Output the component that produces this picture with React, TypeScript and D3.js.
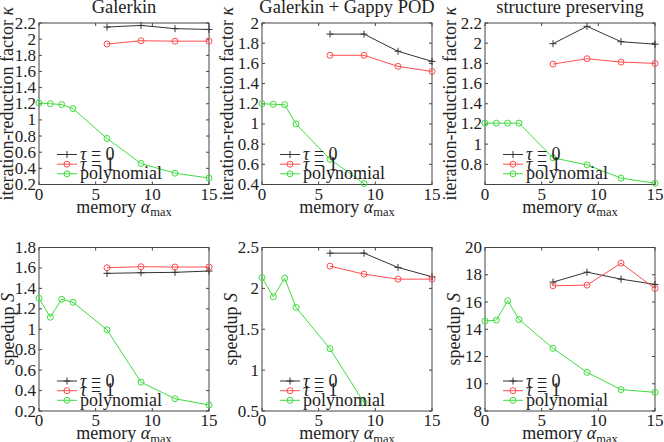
import React from "react";
import * as d3 from "d3";

// ---------- data ----------
const xTau = [6, 9, 12, 15];
const xPoly = [0, 1, 2, 3, 6, 9, 12, 15];
const xPolyGappy = [0, 1, 2, 3, 6, 9];
const xTicks = [0, 5, 10, 15];

const titles = ["Galerkin", "Galerkin + Gappy POD", "structure preserving"];
const legendLabels = ["τ = 0", "τ = 1", "polynomial"];

// iteration-reduction factor kappa
const kappaGalerkinTau0 = [2.15, 2.17, 2.13, 2.12];
const kappaGalerkinTau1 = [1.94, 1.98, 1.975, 1.975];
const kappaGalerkinPoly = [1.21, 1.2, 1.19, 1.14, 0.77, 0.46, 0.34, 0.28];

const kappaGappyTau0 = [1.89, 1.89, 1.72, 1.62];
const kappaGappyTau1 = [1.68, 1.68, 1.57, 1.52];
const kappaGappyPoly = [1.2, 1.195, 1.19, 1.0, 0.65, 0.41];

const kappaStructTau0 = [1.995, 2.167, 2.015, 1.99];
const kappaStructTau1 = [1.793, 1.846, 1.813, 1.8];
const kappaStructPoly = [1.208, 1.208, 1.208, 1.208, 0.864, 0.795, 0.663, 0.613];

// speedup S
const speedGalerkinTau0 = [1.547, 1.553, 1.557, 1.57];
const speedGalerkinTau1 = [1.602, 1.612, 1.609, 1.609];
const speedGalerkinPoly = [1.303, 1.118, 1.294, 1.264, 0.995, 0.482, 0.32, 0.258];

const speedGappyTau0 = [2.431, 2.431, 2.256, 2.142];
const speedGappyTau1 = [2.272, 2.174, 2.113, 2.113];
const speedGappyPoly = [2.133, 1.897, 2.125, 1.767, 1.262, 0.602];

const speedStructTau0 = [17.46, 18.19, 17.68, 17.29];
const speedStructTau1 = [17.19, 17.24, 18.85, 16.99];
const speedStructPoly = [14.6, 14.67, 16.09, 14.72, 12.6, 10.84, 9.57, 9.37];

// y tick values
const yTicksK1 = [0.2, 0.4, 0.6, 0.8, 1, 1.2, 1.4, 1.6, 1.8, 2, 2.2];
const yTicksK2 = [0.4, 0.6, 0.8, 1, 1.2, 1.4, 1.6, 1.8, 2];
const yTicksK3 = [0.8, 1, 1.2, 1.4, 1.6, 1.8, 2, 2.2];
const yTicksS1 = [0.2, 0.4, 0.6, 0.8, 1, 1.2, 1.4, 1.6, 1.8];
const yTicksS2 = [0.5, 1, 1.5, 2, 2.5];
const yTicksS3 = [8, 10, 12, 14, 16, 18, 20];

// ---------- layout / style ----------
const W = 664;
const H = 442;
const FONT = "'Liberation Serif', 'DejaVu Serif', serif";
const FS = 17;
const FS_TITLE = 18.5;
const FS_LABEL = 18;
const colLeft = [39, 262, 485];
const plotW = 170;
const rowTop = [23, 247.5];
const rowBottom = [184.5, 411];
const yLabelOffset = [
  [26.5, 29.5, 29.5],
  [25, 25, 25],
];
const colors = ["#333333", "#ff4d4d", "#3ddd3d"];
const axisColor = "#444444";

type Panel = {
  col: number;
  row: number;
  domain: [number, number];
  ticks: number[];
  tau0: number[];
  tau1: number[];
  poly: number[];
  polyX: number[];
};

const panels: Panel[] = [
  { col: 0, row: 0, domain: [0.2, 2.2], ticks: yTicksK1, tau0: kappaGalerkinTau0, tau1: kappaGalerkinTau1, poly: kappaGalerkinPoly, polyX: xPoly },
  { col: 1, row: 0, domain: [0.4, 2], ticks: yTicksK2, tau0: kappaGappyTau0, tau1: kappaGappyTau1, poly: kappaGappyPoly, polyX: xPolyGappy },
  { col: 2, row: 0, domain: [0.6, 2.2], ticks: yTicksK3, tau0: kappaStructTau0, tau1: kappaStructTau1, poly: kappaStructPoly, polyX: xPoly },
  { col: 0, row: 1, domain: [0.2, 1.8], ticks: yTicksS1, tau0: speedGalerkinTau0, tau1: speedGalerkinTau1, poly: speedGalerkinPoly, polyX: xPoly },
  { col: 1, row: 1, domain: [0.5, 2.5], ticks: yTicksS2, tau0: speedGappyTau0, tau1: speedGappyTau1, poly: speedGappyPoly, polyX: xPolyGappy },
  { col: 2, row: 1, domain: [8, 20], ticks: yTicksS3, tau0: speedStructTau0, tau1: speedStructTau1, poly: speedStructPoly, polyX: xPoly },
];

const fmt = (v: number) => String(+v.toFixed(2));

function Marker({ kind, x, y, color }: { kind: number; x: number; y: number; color: string }) {
  if (kind === 0) {
    return (
      <g stroke={color} strokeWidth={1}>
        <line x1={x - 3.5} x2={x + 3.5} y1={y} y2={y} />
        <line x1={x} x2={x} y1={y - 3.5} y2={y + 3.5} />
      </g>
    );
  }
  return <circle cx={x} cy={y} r={3} fill="none" stroke={color} strokeWidth={1} />;
}

function PanelView({ p, idx }: { p: Panel; idx: number }) {
  const left = colLeft[p.col];
  const right = left + plotW;
  const top = rowTop[p.row];
  const bottom = rowBottom[p.row];
  const x = d3.scaleLinear().domain([0, 15]).range([left, right]);
  const y = d3.scaleLinear().domain(p.domain).range([bottom, top]);
  const line = d3
    .line<[number, number]>()
    .x((d) => x(d[0]))
    .y((d) => y(d[1]));

  const series = [
    { xs: xTau, ys: p.tau0 },
    { xs: xTau, ys: p.tau1 },
    { xs: p.polyX, ys: p.poly },
  ];
  const cx = (left + right) / 2;
  const cy = (top + bottom) / 2;
  const clipId = `clip${idx}`;
  const tl = 3;
  const legendRows = [bottom - 30, bottom - 20.3, bottom - 10.7];

  return (
    <g>
      <defs>
        <clipPath id={clipId}>
          <rect x={left - 4} y={top - 4} width={plotW + 8} height={bottom - top + 8} />
        </clipPath>
      </defs>
      {p.row === 0 && (
        <text x={cx} y={13} textAnchor="middle" fontSize={FS_TITLE} fill="#222">
          {titles[p.col]}
        </text>
      )}
      {/* box */}
      <rect x={left} y={top} width={plotW} height={bottom - top} fill="none" stroke={axisColor} strokeWidth={1} />
      {/* y ticks */}
      {p.ticks.map((t) => (
        <g key={"y" + t}>
          <line x1={left} x2={left + tl} y1={y(t)} y2={y(t)} stroke={axisColor} />
          <line x1={right} x2={right - tl} y1={y(t)} y2={y(t)} stroke={axisColor} />
          <text x={left - 3} y={y(t) + 5.5} textAnchor="end" fontSize={FS} fill="#222">
            {fmt(t)}
          </text>
        </g>
      ))}
      {/* x ticks */}
      {xTicks.map((t) => (
        <g key={"x" + t}>
          <line x1={x(t)} x2={x(t)} y1={bottom} y2={bottom - tl} stroke={axisColor} />
          <line x1={x(t)} x2={x(t)} y1={top} y2={top + tl} stroke={axisColor} />
          <text x={x(t)} y={bottom + 15} textAnchor="middle" fontSize={FS} fill="#222">
            {t}
          </text>
        </g>
      ))}
      {/* x label */}
      <text x={cx} y={bottom + 28} textAnchor="middle" fontSize={FS_LABEL} fill="#222">
        memory <tspan fontStyle="italic">α</tspan>
        <tspan fontSize={12.5} dy={3.5}>max</tspan>
      </text>
      {/* y label */}
      <text
        transform={`translate(${left - yLabelOffset[p.row][p.col]},${cy}) rotate(-90)`}
        textAnchor="middle"
        fontSize={FS_LABEL}
        fill="#222"
      >
        {p.row === 0 ? (
          <>
            iteration-reduction factor <tspan fontStyle="italic">κ</tspan>
          </>
        ) : (
          <>
            speedup <tspan fontStyle="italic">S</tspan>
          </>
        )}
      </text>
      {/* data */}
      <g clipPath={`url(#${clipId})`}>
        {series.map((s, i) => {
          const pts: [number, number][] = s.xs.map((xv, j) => [xv, s.ys[j]]);
          return (
            <g key={"s" + i}>
              <path d={line(pts) || ""} fill="none" stroke={colors[i]} strokeWidth={1} />
              {pts.map((d, j) => (
                <Marker key={j} kind={i} x={x(d[0])} y={y(d[1])} color={colors[i]} />
              ))}
            </g>
          );
        })}
      </g>
      {/* legend */}
      {legendLabels.map((lab, i) => (
        <g key={"l" + i}>
          <line x1={left + 18} x2={left + 38} y1={legendRows[i]} y2={legendRows[i]} stroke={colors[i]} />
          <Marker kind={i === 0 ? 0 : 1} x={left + 28} y={legendRows[i]} color={colors[i]} />
          <text x={left + 41} y={legendRows[i] + 5.5} fontSize={FS_LABEL} fill="#222">
            {i < 2 ? (
              <>
                <tspan fontStyle="italic">τ</tspan>
                {lab.slice(1)}
              </>
            ) : (
              lab
            )}
          </text>
        </g>
      ))}
    </g>
  );
}

export default function App() {
  return (
    <svg
      width={W}
      height={H}
      style={{ position: "absolute", left: 0, top: 0, fontFamily: FONT, background: "#fff" }}
    >
      <rect x={0} y={0} width={W} height={H} fill="#fff" />
      {panels.map((p, i) => (
        <PanelView key={i} p={p} idx={i} />
      ))}
    </svg>
  );
}
